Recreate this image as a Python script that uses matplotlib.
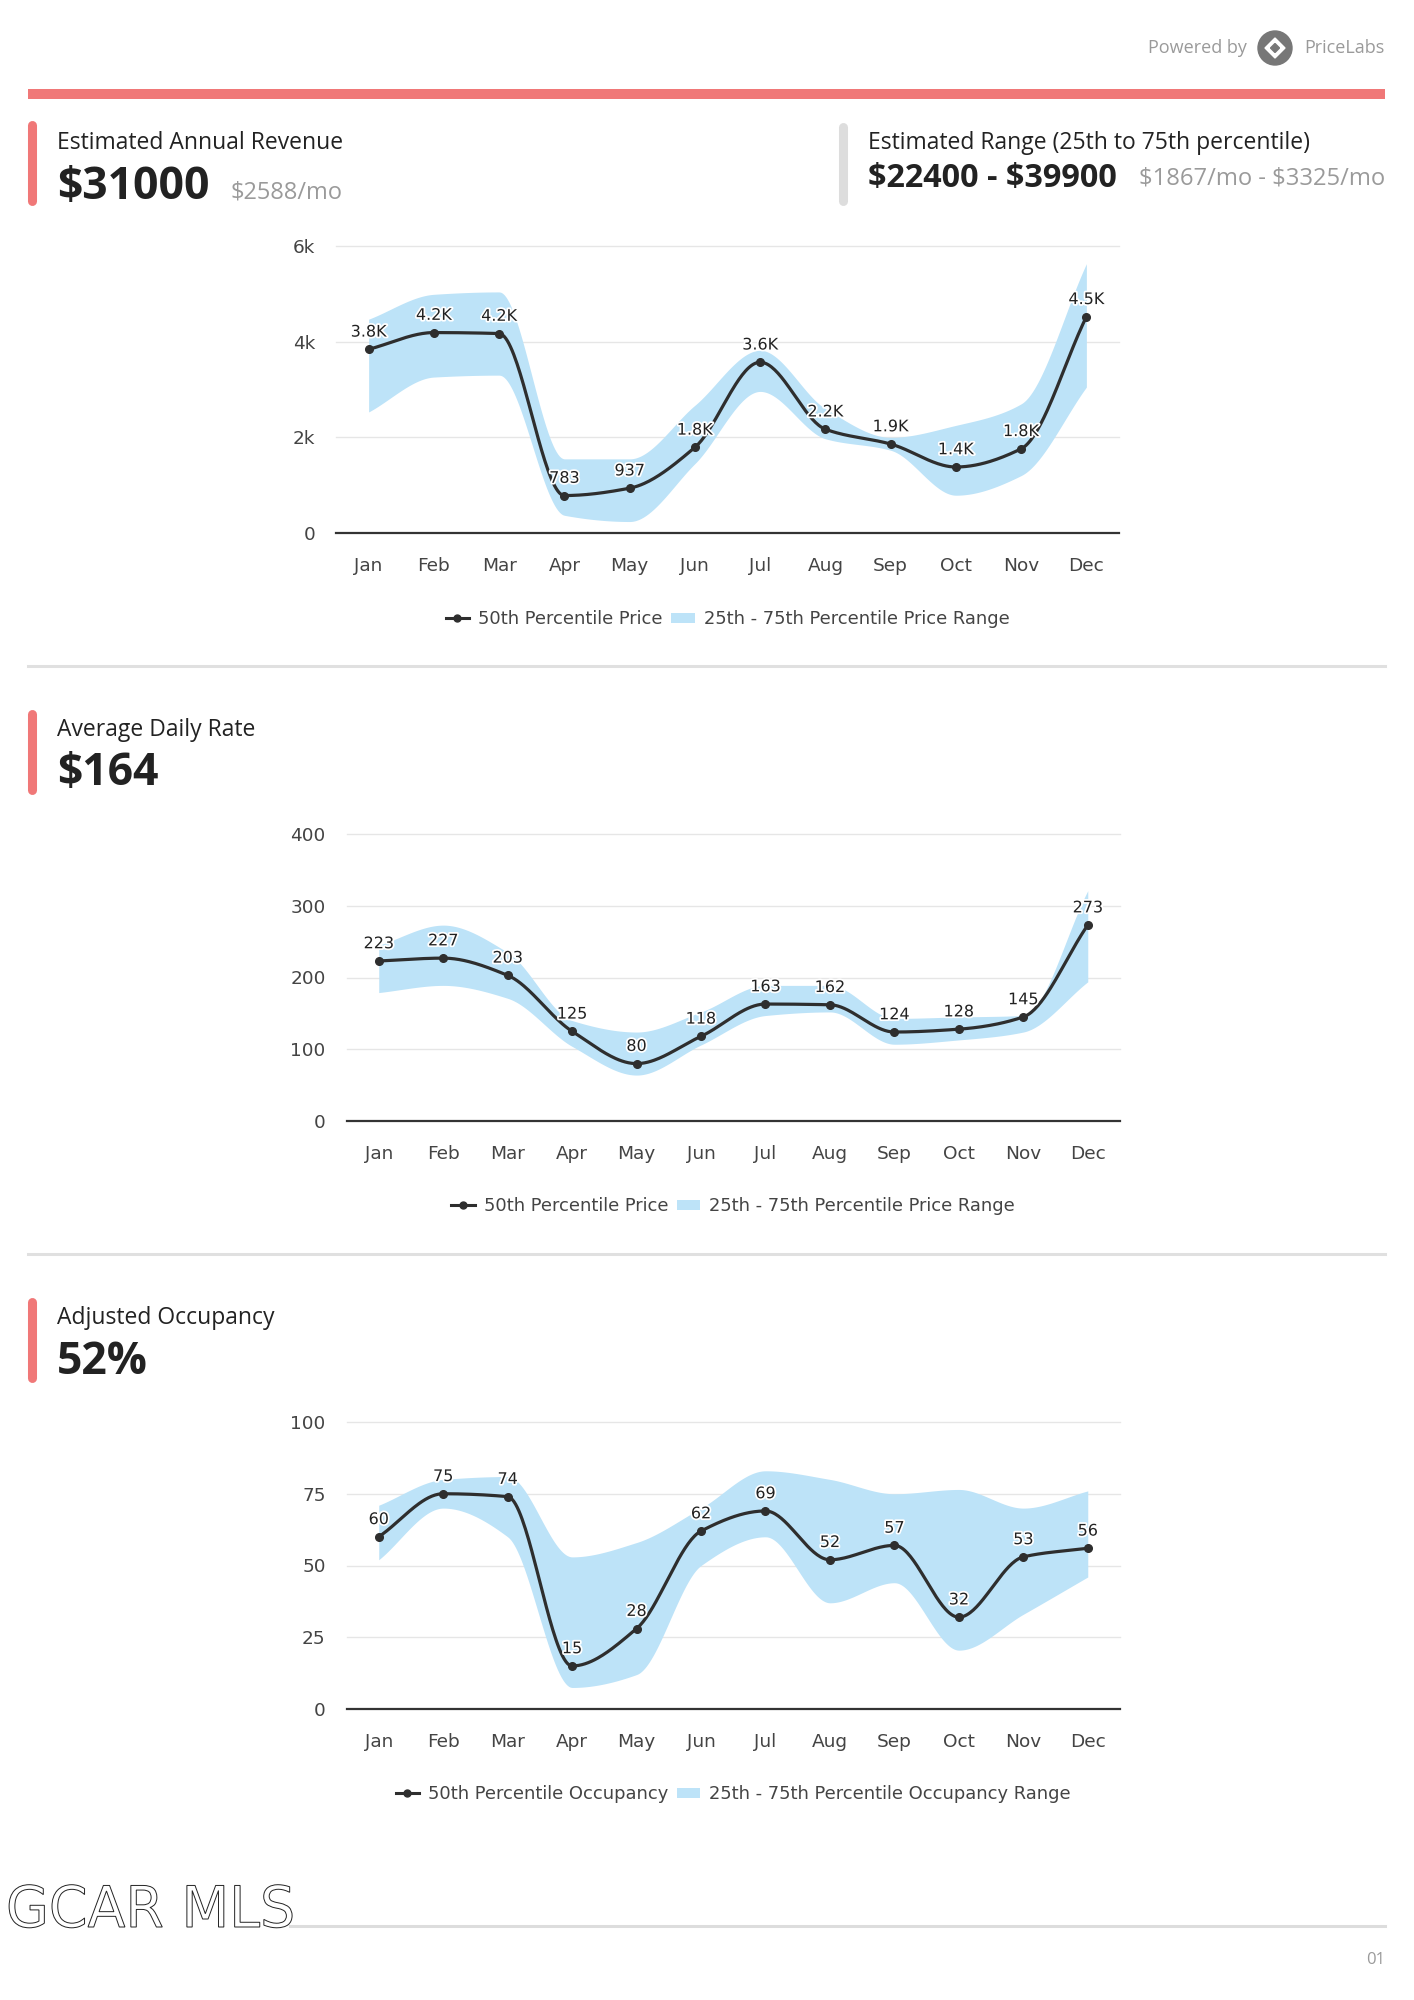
import matplotlib
matplotlib.use("Agg")
import matplotlib.pyplot as plt
import numpy as np
from matplotlib.lines import Line2D
from matplotlib.patches import Patch, Rectangle, Circle, RegularPolygon, PathPatch
from matplotlib.textpath import TextPath
from matplotlib.font_manager import FontProperties
from matplotlib.transforms import Affine2D
from matplotlib import patheffects as pe

months = ["Jan", "Feb", "Mar", "Apr", "May", "Jun", "Jul", "Aug", "Sep", "Oct", "Nov", "Dec"]

# revenue (monthly, $)
rev_p50 = [3840, 4190, 4170, 783, 937, 1790, 3570, 2170, 1860, 1380, 1760, 4520]
rev_p25 = [2530, 3260, 3300, 370, 240, 1450, 2960, 1970, 1730, 790, 1200, 3050]
rev_p75 = [4470, 4990, 5040, 1550, 1550, 2670, 3820, 2600, 2000, 2250, 2700, 5630]

# average daily rate ($)
adr_p50 = [223, 227, 203, 125, 80, 118, 163, 162, 124, 128, 145, 273]
adr_p25 = [179, 189, 171, 104, 64, 106, 147, 152, 107, 113, 124, 194]
adr_p75 = [245, 273, 235, 140, 124, 152, 189, 189, 143, 145, 147, 321]

# occupancy (%)
occ_p50 = [60, 75, 74, 15, 28, 62, 69, 52, 57, 32, 53, 56]
occ_p25 = [52, 70, 60, 7.5, 12, 50, 60, 37, 44, 20.5, 33, 46]
occ_p75 = [71, 80, 81, 53, 58, 70, 83, 80, 75, 76.5, 70, 76]

W, H = 1414, 2000
RED = "#f07878"
BAND = "#bde3f8"
LINE = "#2e2e2e"
GRAY_TXT = "#9a9a9a"
HEAD_FONT = ["Open Sans", "DejaVu Sans"]


def monotone(y, n=40):
    # monotone cubic (Fritsch-Carlson) through the points, for the smooth line look
    y = np.asarray(y, dtype=float)
    d = np.diff(y)
    m = np.zeros_like(y)
    m[0], m[-1] = d[0], d[-1]
    for k in range(1, len(y) - 1):
        if d[k - 1] * d[k] > 0:
            m[k] = 2 * d[k - 1] * d[k] / (d[k - 1] + d[k])
    xs, ys = [], []
    for k in range(len(y) - 1):
        t = np.linspace(0, 1, n, endpoint=False)
        h00 = 2 * t**3 - 3 * t**2 + 1
        h10 = t**3 - 2 * t**2 + t
        h01 = -2 * t**3 + 3 * t**2
        h11 = t**3 - t**2
        xs.append(k + t)
        ys.append(h00 * y[k] + h10 * m[k] + h01 * y[k + 1] + h11 * m[k + 1])
    xs.append([len(y) - 1])
    ys.append([y[-1]])
    return np.concatenate(xs), np.concatenate(ys)


def fmt_k(v):
    return f"{v / 1000:.1f}K" if v >= 1000 else str(v)


fig = plt.figure(figsize=(W / 100, H / 100), dpi=100)
fig.patch.set_facecolor("white")

deco = fig.add_axes([0, 0, 1, 1], zorder=0)
deco.set_xlim(0, W)
deco.set_ylim(H, 0)
deco.axis("off")


def txt(x, y, s, size, color="#222222", weight="normal", ha="left", family=HEAD_FONT):
    deco.text(x, y, s, fontsize=size, color=color, weight=weight, ha=ha, va="center", family=family)


def accent(x, y0, y1, color):
    deco.plot([x, x], [y0, y1], color=color, lw=6.5, solid_capstyle="round")


# top brand
txt(1148, 48, "Powered by", 13, GRAY_TXT)
deco.add_patch(Circle((1275, 48), 17, color="#777777"))
deco.add_patch(RegularPolygon((1275, 48), 4, radius=10, color="white"))
deco.add_patch(RegularPolygon((1275, 48), 4, radius=4.5, color="#777777"))
txt(1385, 48, "PriceLabs", 13, GRAY_TXT, ha="right")
deco.add_patch(Rectangle((28, 89), 1357, 10, color=RED, lw=0))

# headers
accent(32, 125, 201, RED)
txt(57, 143, "Estimated Annual Revenue", 16.5)
txt(57, 187, "\\$31000", 32, weight="bold")
txt(230, 193, "\\$2588/mo", 17, GRAY_TXT)
accent(843, 127, 201, "#dddddd")
txt(868, 143, "Estimated Range (25th to 75th percentile)", 16.5)
txt(868, 178, "\\$22400 - \\$39900", 23.3, weight="bold")
txt(1385, 178, "\\$1867/mo - \\$3325/mo", 17.1, GRAY_TXT, ha="right")

deco.plot([28, 1385], [666, 666], color="#e0e0e0", lw=2.2)
accent(32, 714, 790, RED)
txt(57, 730, "Average Daily Rate", 16.5)
txt(57, 774, "\\$164", 32, weight="bold")

deco.plot([28, 1385], [1254, 1254], color="#e0e0e0", lw=2.2)
accent(32, 1302, 1378, RED)
txt(57, 1318, "Adjusted Occupancy", 16.5)
txt(57, 1362, "52%", 32, weight="bold")

# footer
deco.plot([290, 1385], [1926, 1926], color="#dddddd", lw=2.2)
logo = TextPath((0, 0), "GCAR MLS", size=57, prop=FontProperties(family="DejaVu Sans"))
lw_ = logo.get_extents().width
logo = Affine2D().scale(283 / lw_, -1).translate(6, 1927).transform_path(logo)
deco.add_patch(PathPatch(logo, facecolor="white", edgecolor="#222222", lw=0.7))
txt(1385, 1960, "01", 12, GRAY_TXT, ha="right")


def chart(box, p50, p25, p75, ticks, ticklabels, labels, line_name, band_name, legend_y):
    left, right, top, bottom = box
    ax = fig.add_axes([left / W, 1 - bottom / H, (right - left) / W, (bottom - top) / H], zorder=2)
    ax.patch.set_alpha(0)
    x = np.arange(len(months))
    bx, lo = monotone(p25)
    _, hi = monotone(p75)
    ax.fill_between(bx, lo, hi, color=BAND, lw=0, zorder=1)
    sx, sy = monotone(p50)
    ax.plot(sx, sy, color=LINE, lw=2.3, zorder=3)
    ax.plot(x, p50, "o", color=LINE, ms=5.5, zorder=4)
    for i, v in enumerate(p50):
        ax.annotate(labels[i], (i, v), xytext=(0, 7), textcoords="offset points", ha="center", va="bottom",
                    fontsize=11.5, color="#222222", zorder=5,
                    path_effects=[pe.withStroke(linewidth=2.5, foreground="white")])
    ax.set_xlim(-0.5, len(months) - 0.5)
    ax.set_ylim(ticks[0], ticks[-1])
    ax.set_xticks(x)
    ax.set_xticklabels(months)
    ax.set_yticks(ticks)
    ax.set_yticklabels(ticklabels)
    for t in ticks[1:]:
        ax.axhline(t, color="#e6e6e6", lw=1, zorder=0, clip_on=False)
    ax.axhline(ticks[0], color="#333333", lw=1.6, zorder=2, clip_on=False)
    for s in ax.spines.values():
        s.set_visible(False)
    ax.tick_params(axis="both", length=0, labelsize=13.3, labelcolor="#444444")
    ax.tick_params(axis="x", pad=17.5)
    ax.tick_params(axis="y", pad=15)
    handles = [Line2D([], [], color=LINE, lw=2.2, marker="o", ms=5),
               Patch(facecolor=BAND, edgecolor="none")]
    ax.legend(handles, [line_name, band_name], loc="center", ncol=2, frameon=False,
              bbox_to_anchor=((left + right) / 2 / W, 1 - legend_y / H), bbox_transform=fig.transFigure,
              fontsize=12.9, labelcolor="#444444", handlelength=1.3, handleheight=0.5,
              handletextpad=0.5, columnspacing=0.5)
    return ax


chart((336, 1119, 246, 533), rev_p50, rev_p25, rev_p75, [0, 2000, 4000, 6000], ["0", "2k", "4k", "6k"],
      [fmt_k(v) for v in rev_p50], "50th Percentile Price", "25th - 75th Percentile Price Range", 619)
chart((346.5, 1120, 834, 1121), adr_p50, adr_p25, adr_p75, [0, 100, 200, 300, 400],
      ["0", "100", "200", "300", "400"], [str(v) for v in adr_p50],
      "50th Percentile Price", "25th - 75th Percentile Price Range", 1206)
chart((346.5, 1120, 1422, 1709), occ_p50, occ_p25, occ_p75, [0, 25, 50, 75, 100],
      ["0", "25", "50", "75", "100"], [str(v) for v in occ_p50],
      "50th Percentile Occupancy", "25th - 75th Percentile Occupancy Range", 1794)

fig.savefig("out.png", dpi=100)
